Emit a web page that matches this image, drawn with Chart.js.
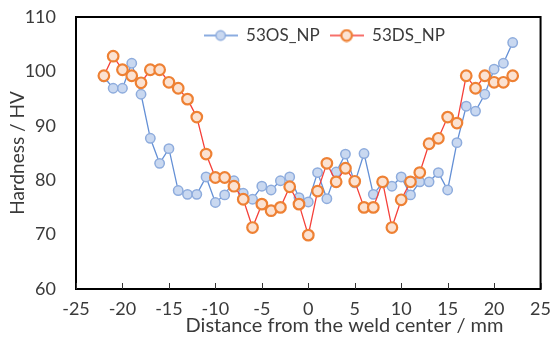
<!DOCTYPE html>
<html>
<head>
<meta charset="utf-8">
<script src="https://cdn.jsdelivr.net/npm/chart.js@4.4.1/dist/chart.umd.min.js"></script>
<style>
  html, body { margin: 0; padding: 0; background: #fff; }
  #wrap { width: 560px; height: 340px; }
</style>
</head>
<body>
<div id="wrap"><canvas id="hardnessChart" width="560" height="340"></canvas></div>
<script>
// Distance from weld center (mm)
const distances = [-22, -21, -20, -19, -18, -17, -16, -15, -14, -13, -12, -11, -10, -9, -8, -7, -6, -5, -4, -3, -2, -1,
    0, 1, 2, 3, 4, 5, 6, 7, 8, 9, 10, 11, 12, 13, 14, 15, 16, 17, 18, 19, 20, 21, 22];

// Hardness values (HV)
const hardnessOS = [99.0, 96.9, 96.9, 101.5, 95.8, 87.7, 83.1, 85.8, 78.1, 77.4, 77.4, 80.6, 75.9, 77.3, 79.9, 77.6, 76.5, 78.9, 78.2, 79.9, 80.6, 76.8,
    76.0, 81.4, 76.6, 81.5, 84.8, 79.5, 84.9, 77.4, 79.5, 78.9, 80.6, 77.3, 79.7, 79.7, 81.4, 78.2, 86.9, 93.6, 92.7, 95.8, 100.4, 101.5, 105.3];
const hardnessDS = [99.2, 102.8, 100.3, 99.2, 97.9, 100.3, 100.3, 98.0, 96.9, 94.9, 91.6, 84.8, 80.5, 80.5, 78.9, 76.5, 71.3, 75.6, 74.4, 75.0, 78.8, 75.6,
    69.9, 78.0, 83.1, 79.7, 82.2, 79.8, 75.0, 75.0, 79.7, 71.3, 76.4, 79.7, 81.4, 86.7, 87.7, 91.6, 90.5, 99.2, 96.9, 99.2, 98.0, 98.0, 99.2];

const seriesNames = ['53OS_NP', '53DS_NP'];
const xTicks = [-25, -20, -15, -10, -5, 0, 5, 10, 15, 20, 25];
const yTicks = [60, 70, 80, 90, 100, 110];
const xTitle = 'Distance from the weld center / mm';
const yTitle = 'Hardness / HV';

const textColor = '#3a3a3a';
const fontFamily = 'Lato, "Open Sans", sans-serif';

function toPoints(values) {
    return distances.map((d, i) => ({ x: d, y: values[i] }));
}

// legend symbol: short line with a marker in the middle
function legendSymbol(lineColor, fill, stroke, r, lw) {
    const c = document.createElement('canvas');
    c.width = 34;
    c.height = 14;
    const g = c.getContext('2d');
    g.strokeStyle = lineColor;
    g.lineWidth = 1.3;
    g.beginPath();
    g.moveTo(0, 7);
    g.lineTo(34, 7);
    g.stroke();
    g.beginPath();
    g.arc(17, 7, r, 0, Math.PI * 2);
    g.fillStyle = fill;
    g.fill();
    g.lineWidth = lw;
    g.strokeStyle = stroke;
    g.stroke();
    return c;
}

// legend sits in the chart area, laid out in one row, a bit right of centre
const legendRowPlugin = {
    id: 'legendRow',
    afterInit(chart) {
        if (chart.legend) chart.legend.isHorizontal = () => true;
    },
    afterLayout(chart) {
        const lg = chart.legend;
        const a = chart.chartArea;
        if (!lg) return;
        lg.left = a.left + 16;
        lg.right = a.right + 16;
        lg.top = a.top;
        lg.bottom = lg.top + lg.height + 13;
    }
};

// frame round the plot, inward x ticks, x axis title (sits right of centre)
const framePlugin = {
    id: 'frame',
    afterDatasetsDraw(chart) {
        const { ctx, chartArea: a, scales } = chart;
        ctx.save();
        ctx.strokeStyle = '#000';
        ctx.lineWidth = 2;
        ctx.strokeRect(a.left, a.top, a.right - a.left, a.bottom - a.top);
        ctx.lineWidth = 1;
        ctx.strokeStyle = '#333';
        xTicks.forEach(t => {
            const px = Math.round(scales.x.getPixelForValue(t)) + 0.5;
            ctx.beginPath();
            ctx.moveTo(px, a.bottom);
            ctx.lineTo(px, a.bottom - 6);
            ctx.stroke();
        });
        ctx.fillStyle = textColor;
        ctx.font = '20px ' + fontFamily;
        ctx.textAlign = 'center';
        ctx.textBaseline = 'middle';
        ctx.fillText(xTitle, scales.x.getPixelForValue(3.9), 326);
        ctx.restore();
    }
};

const ctx = document.getElementById('hardnessChart').getContext('2d');

new Chart(ctx, {
    type: 'line',
    data: {
        datasets: [{
            label: seriesNames[0],
            data: toPoints(hardnessOS),
            borderColor: '#6490d6',
            borderWidth: 1.3,
            pointRadius: 4.7,
            pointBackgroundColor: '#c9d8f0',
            pointBorderColor: '#8eacdd',
            pointBorderWidth: 1.5,
            pointStyle: 'circle',
            tension: 0,
            order: 2
        }, {
            label: seriesNames[1],
            data: toPoints(hardnessDS),
            borderColor: '#f5403a',
            borderWidth: 1.3,
            pointRadius: 5.3,
            pointBackgroundColor: '#fbe2d2',
            pointBorderColor: '#ee8134',
            pointBorderWidth: 2.2,
            pointStyle: 'circle',
            tension: 0,
            order: 1
        }]
    },
    options: {
        responsive: false,
        animation: false,
        devicePixelRatio: 1,
        layout: { padding: { top: 17, right: 11, left: 0, bottom: 0 } },
        plugins: {
            tooltip: { enabled: false },
            legend: {
                position: 'chartArea',
                fullSize: false,
                align: 'center',
                labels: {
                    usePointStyle: true,
                    pointStyleWidth: 34,
                    color: textColor,
                    font: { family: fontFamily, size: 17 },
                    padding: 10,
                    sort: (a, b) => a.datasetIndex - b.datasetIndex,
                    generateLabels(chart) {
                        const syms = [
                            legendSymbol('#6490d6', '#c9d8f0', '#8eacdd', 4.7, 1.5),
                            legendSymbol('#f5403a', '#fbe2d2', '#ee8134', 5.3, 2.2)
                        ];
                        return chart.data.datasets.map((ds, i) => ({
                            text: ds.label,
                            fillStyle: 'transparent',
                            strokeStyle: 'transparent',
                            lineWidth: 0,
                            pointStyle: syms[i],
                            fontColor: textColor,
                            datasetIndex: i,
                            hidden: false
                        }));
                    }
                }
            }
        },
        scales: {
            x: {
                type: 'linear',
                min: -25,
                max: 25,
                afterBuildTicks(scale) { scale.ticks = xTicks.map(v => ({ value: v })); },
                afterFit(scale) { scale.height = 51; },
                grid: { display: false, drawTicks: false },
                border: { display: false },
                ticks: { color: textColor, font: { family: fontFamily, size: 18 }, padding: 9, maxRotation: 0 },
                title: { display: false }
            },
            y: {
                min: 60,
                max: 110,
                afterBuildTicks(scale) { scale.ticks = yTicks.map(v => ({ value: v })); },
                afterFit(scale) {
                    scale.width = 76;
                    scale.paddingTop = 0;
                    scale.paddingBottom = 0;
                },
                grid: { display: false, drawTicks: false },
                border: { display: false },
                ticks: { color: textColor, font: { family: fontFamily, size: 18 }, padding: 20 },
                title: {
                    display: true,
                    text: yTitle,
                    color: textColor,
                    font: { family: fontFamily, size: 19 },
                    padding: { top: 6, bottom: 4 }
                }
            }
        }
    },
    plugins: [legendRowPlugin, framePlugin]
});
</script>
</body>
</html>
